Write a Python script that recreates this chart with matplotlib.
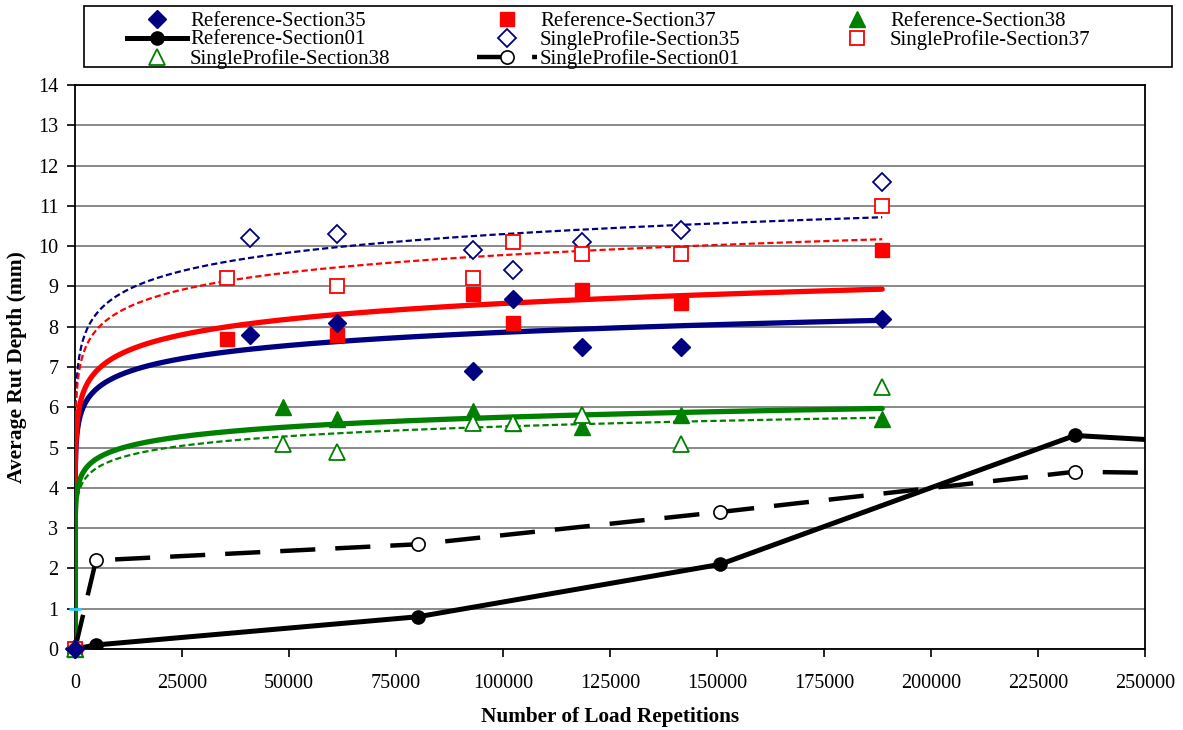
import numpy as np
import matplotlib
matplotlib.use("Agg")
import matplotlib.pyplot as plt
from matplotlib.lines import Line2D
from matplotlib.patches import Rectangle

plt.rcParams['font.family'] = ['Liberation Serif', 'DejaVu Serif']

# ---- measured rut depth (mm) versus load repetitions ----
x_ref35 = [0, 40900, 61200, 93000, 102300, 118500, 141600, 188600]
y_ref35 = [0, 7.8, 8.1, 6.9, 8.7, 7.5, 7.5, 8.2]
x_ref37 = [0, 35500, 61200, 93000, 102300, 118500, 141600, 188600]
y_ref37 = [0, 7.7, 7.8, 8.8, 8.1, 8.9, 8.6, 9.9]
x_ref38 = [0, 48600, 61200, 93000, 102300, 118500, 141600, 188600]
y_ref38 = [0, 6.0, 5.7, 5.9, 5.6, 5.5, 5.8, 5.7]

x_sp35 = [0, 40900, 61200, 93000, 102300, 118500, 141600, 188600]
y_sp35 = [0, 10.2, 10.3, 9.9, 9.4, 10.1, 10.4, 11.6]
x_sp37 = [0, 35500, 61200, 93000, 102300, 118500, 141600, 188600]
y_sp37 = [0, 9.2, 9.0, 9.2, 10.1, 9.8, 9.8, 11.0]
x_sp38 = [0, 48600, 61200, 93000, 102300, 118500, 141600, 188600]
y_sp38 = [0, 5.1, 4.9, 5.6, 5.6, 5.8, 5.1, 6.5]

x_ref01 = [0, 4900, 80100, 150700, 233600, 300000]
y_ref01 = [0, 0.1, 0.8, 2.1, 5.3, 4.9]
x_sp01 = [0, 4900, 80100, 150700, 233600, 300000]
y_sp01 = [0, 2.2, 2.6, 3.4, 4.4, 4.3]

x_axis_mark = [0]
y_axis_mark = [1]

# logarithmic trendlines y = slope * ln(x) + intercept
trend_ref35 = (0.47, 2.45)
trend_ref37 = (0.56, 2.13)
trend_ref38 = (0.345, 1.78)
trend_sp35 = (0.66, 2.70)
trend_sp37 = (0.62, 2.64)
trend_sp38 = (0.346, 1.54)

y_ticks = list(range(0, 15))
x_ticks = [0, 25000, 50000, 75000, 100000, 125000, 150000, 175000, 200000, 225000, 250000]

legend_labels = ['Reference-Section35', 'Reference-Section37', 'Reference-Section38',
                 'Reference-Section01', 'SingleProfile-Section35', 'SingleProfile-Section37',
                 'SingleProfile-Section38', 'SingleProfile-Section01']

NAVY = '#000080'
RED = '#FF0000'
GREEN = '#008000'

W, H = 1183, 730
fig = plt.figure(figsize=(W / 100, H / 100), dpi=100)
ax = fig.add_axes([75 / W, 81 / H, 1070 / W, 564 / H])


def trend(ax, coeffs, xmax, color, solid):
    xs = np.logspace(-3, np.log10(xmax), 600)
    ys = coeffs[0] * np.log(xs) + coeffs[1]
    if solid:
        ax.plot(xs, ys, color=color, lw=3.8, solid_capstyle='round', zorder=3)
    else:
        ax.plot(xs, ys, color=color, lw=1.6, dashes=(2.8, 1.4), zorder=3)


xmax = max(x_ref35)
trend(ax, trend_sp35, xmax, NAVY, False)
trend(ax, trend_sp37, xmax, RED, False)
trend(ax, trend_sp38, xmax, GREEN, False)
trend(ax, trend_ref35, xmax, NAVY, True)
trend(ax, trend_ref37, xmax, RED, True)
trend(ax, trend_ref38, xmax, GREEN, True)

style_ref35 = dict(ls='none', marker='D', ms=9.5, color=NAVY)
style_ref37 = dict(ls='none', marker='s', ms=10.5, color=RED)
style_ref38 = dict(ls='none', marker='^', ms=11.5, color=GREEN)
style_sp35 = dict(ls='none', marker='D', ms=9, mfc='white', mec=NAVY, mew=1.3)
style_sp37 = dict(ls='none', marker='s', ms=10.5, mfc='white', mec=RED, mew=1.3)
style_sp38 = dict(ls='none', marker='^', ms=11, mfc='white', mec=GREEN, mew=1.3)
style_ref01 = dict(color='black', lw=3.6, marker='o', ms=9.5)
style_sp01 = dict(color='black', lw=3.2, dashes=(7.9, 4.5), marker='o', ms=9.5,
                  mfc='white', mec='black', mew=1.2)

ax.plot(x_ref37, y_ref37, zorder=5, clip_on=False, **style_ref37)
ax.plot(x_ref38, y_ref38, zorder=5, clip_on=False, **style_ref38)
ax.plot(x_sp35, y_sp35, zorder=5, clip_on=False, **style_sp35)
ax.plot(x_sp37, y_sp37, zorder=5, clip_on=False, **style_sp37)
ax.plot(x_sp38, y_sp38, zorder=5, clip_on=False, **style_sp38)
ax.plot(x_ref35, y_ref35, zorder=5, clip_on=False, **style_ref35)
ax.plot(x_ref01, y_ref01, zorder=4, **style_ref01)
ax.plot(x_sp01, y_sp01, zorder=4, **style_sp01)
ax.plot(x_axis_mark, y_axis_mark, ls='none', marker='_', ms=9, mew=2,
        color='#33CCFF', zorder=6, clip_on=False)

ax.set_xlim(0, 250000)
ax.set_ylim(0, 14)
ax.set_xticks(x_ticks)
ax.set_xticklabels([str(t) for t in x_ticks])
ax.set_yticks(y_ticks)
ax.tick_params(axis='both', labelsize=14.5, direction='out', length=6,
               width=1.2, color='black')
ax.tick_params(axis='x', pad=12)
ax.tick_params(axis='y', pad=6)
ax.grid(axis='y', color='#808080', lw=1.3, zorder=0)
for side in ['left', 'right', 'top', 'bottom']:
    ax.spines[side].set_linewidth(1.3)
    ax.spines[side].set_color('black')

ax.set_xlabel('Number of Load Repetitions', fontsize=15.3, fontweight='bold',
              labelpad=10)
ax.set_ylabel('Average Rut Depth (mm)', fontsize=15.5, fontweight='bold',
              labelpad=8)

# legend: a framed box with three evenly spaced columns, entries read row-wise
fig.patches.append(Rectangle((84 / W, 1 - 67 / H), 1088 / W, 61 / H,
                             transform=fig.transFigure, fill=False,
                             edgecolor='black', lw=1.2, zorder=10))
legend_styles = [style_ref35, style_ref37, style_ref38, style_ref01,
                 style_sp35, style_sp37, style_sp38, style_sp01]
for i, (lab, st) in enumerate(zip(legend_labels, legend_styles)):
    row, col = divmod(i, 3)
    cx = 157 + 350 * col
    cy = 1 - (19 + 19 * row) / H
    if st.get('ls') == 'none':
        xs = [cx / W]
        ys = [cy]
        extra = {}
    else:
        xs = [(cx - 30) / W, cx / W, (cx + 30) / W]
        ys = [cy, cy, cy]
        extra = dict(markevery=[1])
    fig.add_artist(Line2D(xs, ys, transform=fig.transFigure, zorder=11,
                          **st, **extra))
    fig.text((cx + 33) / W, cy - 2 / H, lab, fontsize=15, ha='left',
             va='center', zorder=12)

fig.savefig('out.png', dpi=100, facecolor='white')
